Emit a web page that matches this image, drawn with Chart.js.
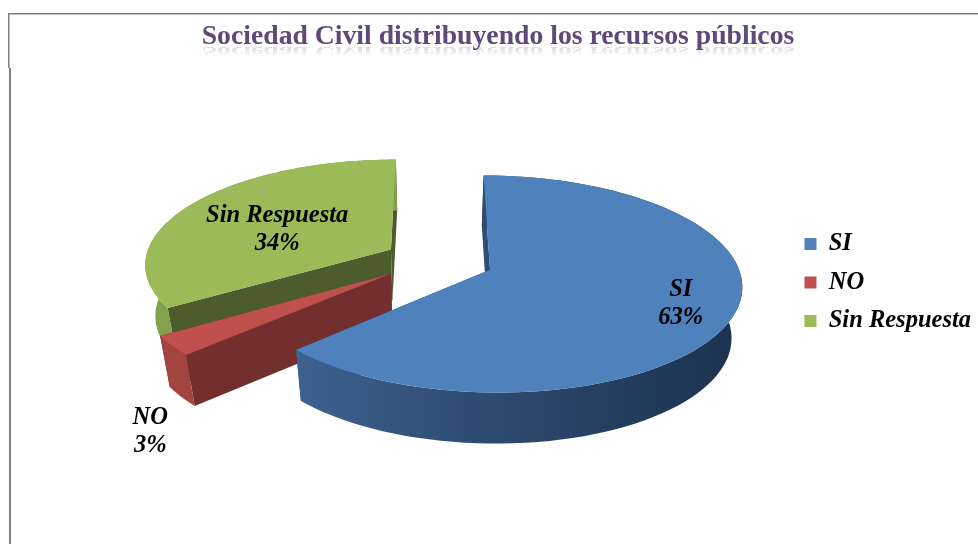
<!DOCTYPE html>
<html>
<head>
<meta charset="utf-8">
<script src="https://cdn.jsdelivr.net/npm/chart.js@4"></script>
<style>
  html, body { margin: 0; padding: 0; background: #fff; }
  #wrap { position: relative; width: 978px; height: 544px; }
</style>
</head>
<body>
<div id="wrap"><canvas id="pie" width="978" height="544"></canvas></div>
<script>
const categories = ["SI", "NO", "Sin Respuesta"];
const values = [63, 3, 34];
const colors = ["#4f81bd", "#c0504d", "#9bbb59"];
const wallColors = ["#2f4d73", "#722f2e", "#4d5c2c"];
const chartTitle = "Sociedad Civil distribuyendo los recursos públicos";

// how the flat pie is tipped over
const tilt = 0.423;
const persp = 0.129;
const depth = 51;
const footLean = 0.035; // walls lean in toward the centre going down
// legend takes room on the right, pie sits off the area centre
const pieShift = { x: 31.5, y: -44 };

// label place per slice: t = fraction of radius, dy = extra px down
const labelPlace = [{ t: 0.79, dy: -1 }, { t: 1.09, dy: 79 }, { t: 0.56, dy: 7 }];

// plane point (relative to pie centre) to screen
function project(arc, px, py) {
  const R = arc.outerRadius;
  const w = 1 - persp * py / R;
  return { x: arc.x + pieShift.x + px / w, y: arc.y + pieShift.y + tilt * py / w };
}

function sliceGeom(arc) {
  const mid = (arc.startAngle + arc.endAngle) / 2;
  const off = arc.options.offset || 0;
  const ox = Math.cos(mid) * off;
  const oy = Math.sin(mid) * off;
  return { arc, mid, R: arc.outerRadius, ox, oy, apex: project(arc, ox, oy), start: arc.startAngle, end: arc.endAngle };
}

function rimPoint(g, angle, r) {
  const rad = r === undefined ? g.R : r;
  return project(g.arc, g.ox + Math.cos(angle) * rad, g.oy + Math.sin(angle) * rad);
}

// bottom of the wall under a point of the top face
function footOf(g, p) {
  const cx = g.arc.x + pieShift.x;
  return { x: p.x + (cx - p.x) * footLean, y: p.y + depth };
}

function topPath(ctx, g) {
  ctx.beginPath();
  ctx.moveTo(g.apex.x, g.apex.y);
  for (let i = 0; i <= 90; i++) {
    const p = rimPoint(g, g.start + (g.end - g.start) * i / 90);
    ctx.lineTo(p.x, p.y);
  }
  ctx.closePath();
}

function fillQuad(ctx, g, a, b, color) {
  const footA = footOf(g, a);
  const footB = footOf(g, b);
  ctx.fillStyle = color;
  ctx.beginPath();
  ctx.moveTo(a.x, a.y);
  ctx.lineTo(b.x, b.y);
  ctx.lineTo(footB.x, footB.y);
  ctx.lineTo(footA.x, footA.y);
  ctx.closePath();
  ctx.fill();
}

function drawRim(ctx, g, index) {
  const steps = 90;
  const left = rimPoint(g, Math.PI).x;
  const right = rimPoint(g, 0).x;
  const grad = ctx.createLinearGradient(left, 0, right, 0);
  if (index === 0) {
    grad.addColorStop(0, "#42689a");
    grad.addColorStop(0.45, "#2f4d73");
    grad.addColorStop(1, "#1c324f");
  } else if (index === 1) {
    grad.addColorStop(0, "#a34441");
    grad.addColorStop(1, "#a34441");
  } else {
    grad.addColorStop(0, "#84a04b");
    grad.addColorStop(1, "#84a04b");
  }
  ctx.fillStyle = grad;
  ctx.beginPath();
  for (let i = 0; i <= steps; i++) {
    const p = rimPoint(g, g.start + (g.end - g.start) * i / steps);
    ctx.lineTo(p.x, p.y);
  }
  for (let i = steps; i >= 0; i--) {
    const p = footOf(g, rimPoint(g, g.start + (g.end - g.start) * i / steps));
    ctx.lineTo(p.x, p.y);
  }
  ctx.closePath();
  ctx.fill();
}

function drawSlice(ctx, arc, index) {
  const g = sliceGeom(arc);
  const startRim = rimPoint(g, g.start);
  const endRim = rimPoint(g, g.end);
  // cut faces first, rim over them, top last
  fillQuad(ctx, g, g.apex, startRim, wallColors[index]);
  fillQuad(ctx, g, g.apex, endRim, wallColors[index]);
  drawRim(ctx, g, index);
  ctx.fillStyle = colors[index];
  topPath(ctx, g);
  ctx.fill();
}

function drawLabel(ctx, arc, index) {
  const g = sliceGeom(arc);
  const place = labelPlace[index];
  const p = rimPoint(g, g.mid, g.R * place.t);
  const x = p.x;
  const y = p.y + place.dy;
  ctx.fillStyle = "#000";
  ctx.font = "italic bold 24.5px 'Liberation Serif'";
  ctx.textAlign = "center";
  ctx.textBaseline = "middle";
  ctx.fillText(categories[index], x, y - 14);
  ctx.fillText(values[index] + "%", x, y + 14);
}

// draws the tipped pie from the arc elements the library laid out
const tippedPie = {
  id: "tippedPie",
  beforeDatasetDraw(chart, args) {
    const ctx = chart.ctx;
    const arcs = args.meta.data;
    ctx.save();
    [2, 1, 0].forEach((i) => drawSlice(ctx, arcs[i], i));
    arcs.forEach((arc, i) => drawLabel(ctx, arc, i));
    ctx.restore();
    return false;
  },
};

// frame lines and the faded mirror under the title
const pageDress = {
  id: "pageDress",
  beforeDraw(chart) {
    const ctx = chart.ctx;
    ctx.save();
    ctx.fillStyle = "#808080";
    ctx.fillRect(8, 13, 970, 1.5);
    ctx.fillRect(8, 13, 1.5, 55);
    ctx.fillRect(9, 68, 2, 476);
    ctx.restore();
  },
  afterDraw(chart) {
    const ctx = chart.ctx;
    ctx.save();
    ctx.font = "bold 27.7px 'Liberation Serif'";
    ctx.textAlign = "center";
    ctx.textBaseline = "alphabetic";
    ctx.translate(498, 47);
    ctx.scale(1, -0.55);
    const fade = ctx.createLinearGradient(0, 0, 0, -18);
    fade.addColorStop(0, "rgba(95,73,122,0.22)");
    fade.addColorStop(1, "rgba(95,73,122,0)");
    ctx.fillStyle = fade;
    ctx.fillText(chartTitle, 0, 0);
    ctx.restore();
  },
};

new Chart(document.getElementById("pie"), {
  type: "pie",
  data: {
    labels: categories,
    datasets: [{
      data: values,
      backgroundColor: colors,
      borderWidth: 0,
      radius: 246,
      offset: [60, 54, 50],
    }],
  },
  options: {
    responsive: false,
    animation: false,
    layout: { padding: { left: 15, right: -3, top: 0, bottom: -21 } },
    plugins: {
      title: {
        display: true,
        text: chartTitle,
        color: "#5f497a",
        font: { family: "'Liberation Serif'", size: 27.7, weight: "bold" },
        padding: { top: 20, bottom: 10 },
      },
      legend: {
        position: "right",
        labels: {
          boxWidth: 12,
          boxHeight: 12,
          color: "#000",
          padding: 14,
          font: { family: "'Liberation Serif'", size: 24.5, style: "italic", weight: "bold" },
        },
      },
      tooltip: { enabled: false },
    },
  },
  plugins: [pageDress, tippedPie],
});
</script>
</body>
</html>
